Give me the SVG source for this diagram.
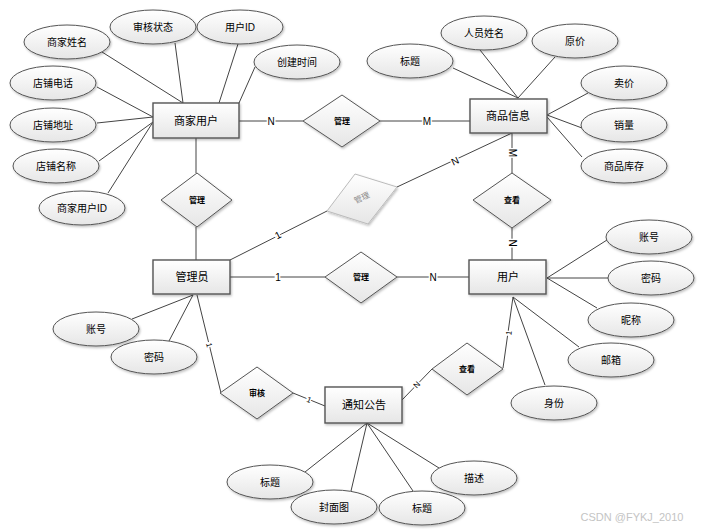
<svg xmlns="http://www.w3.org/2000/svg" width="703" height="530" viewBox="0 0 703 530">
<defs>
<linearGradient id="g" x1="0" y1="0" x2="0" y2="1">
<stop offset="0" stop-color="#ffffff"/>
<stop offset="1" stop-color="#e6e6e6"/>
</linearGradient>
<filter id="sh" x="-10%" y="-10%" width="130%" height="140%">
<feDropShadow dx="1" dy="1.5" stdDeviation="0.8" flood-color="#000" flood-opacity="0.25"/>
</filter>
</defs>
<style>
text{font-family:"Liberation Sans","Noto Sans CJK SC",sans-serif;text-anchor:middle;dominant-baseline:central;fill:#000}
.ent rect{fill:url(#g);stroke:#555;stroke-width:1.4;filter:url(#sh)}
.ent text{font-size:11px}
.att ellipse{fill:url(#g);stroke:#555;stroke-width:1;filter:url(#sh)}
.att text{font-size:10px}
.rel polygon{fill:url(#g);stroke:#555;stroke-width:1;filter:url(#sh)}
.rel text{font-size:8px;font-weight:bold}
.conn line{stroke:#444;stroke-width:1}
.lbl{font-size:10px;stroke:#fff;stroke-width:3;paint-order:stroke}
</style>
<rect width="703" height="530" fill="#fff"/>

<g id="connectors" class="conn">
<!-- 商家用户 attributes -->
<line x1="102" y1="52" x2="183" y2="103"/>
<line x1="175" y1="43" x2="183" y2="103"/>
<line x1="238" y1="44" x2="219" y2="103"/>
<line x1="255" y1="67" x2="239" y2="103"/>
<line x1="97" y1="87" x2="153" y2="117"/>
<line x1="97" y1="123" x2="153" y2="117"/>
<line x1="99" y1="161" x2="153" y2="122"/>
<line x1="108" y1="193" x2="153" y2="122"/>
<!-- 商品信息 attributes -->
<line x1="453" y1="68" x2="518" y2="98" stroke-width="1.3"/>
<line x1="480" y1="50" x2="518" y2="98"/>
<line x1="555" y1="57" x2="518" y2="98"/>
<line x1="588" y1="93" x2="547" y2="115"/>
<line x1="582" y1="128" x2="547" y2="115" stroke-width="1.5"/>
<line x1="582" y1="157" x2="547" y2="117"/>
<!-- 管理员 attributes -->
<line x1="132" y1="319" x2="193" y2="295"/>
<line x1="169" y1="341" x2="193" y2="295"/>
<!-- 用户 attributes -->
<line x1="607" y1="240" x2="547" y2="278"/>
<line x1="608" y1="278" x2="547" y2="278"/>
<line x1="597" y1="308" x2="547" y2="278"/>
<line x1="579" y1="347" x2="513" y2="297"/>
<line x1="545" y1="385" x2="513" y2="297"/>
<!-- 通知公告 attributes -->
<line x1="305" y1="472" x2="367" y2="423"/>
<line x1="351" y1="491" x2="367" y2="423"/>
<line x1="413" y1="491" x2="367" y2="423"/>
<line x1="439" y1="468" x2="367" y2="423"/>
<!-- relationships -->
<line x1="239" y1="121" x2="303" y2="121"/>
<line x1="380" y1="121" x2="470" y2="121"/>
<line x1="196" y1="138" x2="196" y2="173"/>
<line x1="196" y1="227" x2="196" y2="260"/>
<line x1="512" y1="133" x2="512" y2="173"/>
<line x1="512" y1="228" x2="512" y2="260"/>
<line x1="512" y1="133" x2="397" y2="187"/>
<line x1="327" y1="211" x2="230" y2="260"/>
<line x1="230" y1="277" x2="325" y2="277"/>
<line x1="397" y1="277" x2="469" y2="277"/>
<line x1="197" y1="295" x2="221" y2="393"/>
<line x1="293" y1="393" x2="325" y2="406"/>
<line x1="513" y1="297" x2="503" y2="368"/>
<line x1="432" y1="369" x2="402" y2="400"/>
<!-- cardinality labels -->
<text class="lbl" x="271" y="121">N</text>
<text class="lbl" x="427" y="121">M</text>
<text class="lbl" transform="translate(512,153) rotate(90)">M</text>
<text class="lbl" transform="translate(512,243) rotate(90)">N</text>
<text class="lbl" transform="translate(455,161) rotate(-25)">N</text>
<text class="lbl" transform="translate(278,235) rotate(-27)">1</text>
<text class="lbl" x="278" y="277">1</text>
<text class="lbl" x="433" y="277">N</text>
<text class="lbl" style="font-size:8px" transform="translate(209,345) rotate(76)">1</text>
<text class="lbl" style="font-size:8px" transform="translate(309,400) rotate(22)">1</text>
<text class="lbl" style="font-size:8px" transform="translate(509,333) rotate(-82)">1</text>
<text class="lbl" style="font-size:8px" transform="translate(417,385) rotate(-46)">N</text>
</g>

<!-- entities -->
<g id="e-shangjia" class="ent"><rect x="153" y="103" width="86" height="35"/><text x="196" y="121">商家用户</text></g>
<g id="e-shangpin" class="ent"><rect x="470" y="99" width="77" height="34"/><text x="508" y="116">商品信息</text></g>
<g id="e-guanliyuan" class="ent"><rect x="153" y="260" width="77" height="34"/><text x="192" y="277">管理员</text></g>
<g id="e-yonghu" class="ent"><rect x="469" y="260" width="77" height="34"/><text x="508" y="277">用户</text></g>
<g id="e-tongzhi" class="ent"><rect x="325" y="387" width="77" height="36"/><text x="364" y="405">通知公告</text></g>

<!-- relationships -->
<g id="r-guanli1" class="rel"><polygon points="303,121 342,95 380,121 342,147"/><text x="342" y="121">管理</text></g>
<g id="r-guanli2" class="rel"><polygon points="161,200 197,173 232,200 197,227"/><text x="197" y="200">管理</text></g>
<g id="r-guanli3" class="rel"><polygon points="355,174 397,187 368,224 327,211" style="stroke:#bbb"/><text transform="translate(362,198) rotate(-25)" style="fill:#888;font-weight:normal">管理</text></g>
<g id="r-guanli4" class="rel"><polygon points="325,277 361,252 397,277 361,303"/><text x="361" y="277">管理</text></g>
<g id="r-chakan1" class="rel"><polygon points="473,200 512,173 551,200 512,228"/><text x="512" y="200">查看</text></g>
<g id="r-shenhe" class="rel"><polygon points="220,393 257,367 293,393 257,419"/><text x="257" y="393">审核</text></g>
<g id="r-chakan2" class="rel"><polygon points="432,369 467,343 503,369 467,395"/><text x="467" y="369">查看</text></g>

<!-- attributes of 商家用户 -->
<g id="a-sjxm" class="att"><ellipse cx="67" cy="42" rx="43" ry="17"/><text x="67" y="42">商家姓名</text></g>
<g id="a-shzt" class="att"><ellipse cx="153" cy="27" rx="43" ry="17"/><text x="153" y="27">审核状态</text></g>
<g id="a-yhid" class="att"><ellipse cx="240" cy="27" rx="43" ry="17"/><text x="240" y="27">用户ID</text></g>
<g id="a-cjsj" class="att"><ellipse cx="297" cy="62" rx="43" ry="17"/><text x="297" y="62">创建时间</text></g>
<g id="a-dpdh" class="att"><ellipse cx="53" cy="83" rx="43" ry="17"/><text x="53" y="83">店铺电话</text></g>
<g id="a-dpdz" class="att"><ellipse cx="53" cy="125" rx="43" ry="17"/><text x="53" y="125">店铺地址</text></g>
<g id="a-dpmc" class="att"><ellipse cx="56" cy="166" rx="43" ry="17"/><text x="56" y="166">店铺名称</text></g>
<g id="a-sjyhid" class="att"><ellipse cx="82" cy="208" rx="43" ry="17"/><text x="82" y="208">商家用户ID</text></g>

<!-- attributes of 商品信息 -->
<g id="a-bt1" class="att"><ellipse cx="410" cy="61" rx="43" ry="17"/><text x="410" y="61">标题</text></g>
<g id="a-ryxm" class="att"><ellipse cx="484" cy="33" rx="43" ry="17"/><text x="484" y="33">人员姓名</text></g>
<g id="a-yj" class="att"><ellipse cx="575" cy="41" rx="43" ry="17"/><text x="575" y="41">原价</text></g>
<g id="a-mj" class="att"><ellipse cx="624" cy="83" rx="43" ry="17"/><text x="624" y="83">卖价</text></g>
<g id="a-xl" class="att"><ellipse cx="624" cy="125" rx="43" ry="17"/><text x="624" y="125">销量</text></g>
<g id="a-spkc" class="att"><ellipse cx="624" cy="166" rx="43" ry="17"/><text x="624" y="166">商品库存</text></g>

<!-- attributes of 管理员 -->
<g id="a-zh1" class="att"><ellipse cx="96" cy="329" rx="43" ry="17"/><text x="96" y="329">账号</text></g>
<g id="a-mm1" class="att"><ellipse cx="154" cy="357" rx="43" ry="17"/><text x="154" y="357">密码</text></g>

<!-- attributes of 用户 -->
<g id="a-zh2" class="att"><ellipse cx="649" cy="237" rx="43" ry="17"/><text x="649" y="237">账号</text></g>
<g id="a-mm2" class="att"><ellipse cx="651" cy="278" rx="43" ry="17"/><text x="651" y="278">密码</text></g>
<g id="a-nc" class="att"><ellipse cx="631" cy="320" rx="43" ry="17"/><text x="631" y="320">昵称</text></g>
<g id="a-yx" class="att"><ellipse cx="611" cy="360" rx="43" ry="17"/><text x="611" y="360">邮箱</text></g>
<g id="a-sf" class="att"><ellipse cx="554" cy="403" rx="43" ry="17"/><text x="554" y="403">身份</text></g>

<!-- attributes of 通知公告 -->
<g id="a-bt2" class="att"><ellipse cx="270" cy="482" rx="43" ry="17"/><text x="270" y="482">标题</text></g>
<g id="a-fmt" class="att"><ellipse cx="334" cy="507" rx="43" ry="17"/><text x="334" y="507">封面图</text></g>
<g id="a-bt3" class="att"><ellipse cx="422" cy="508" rx="43" ry="17"/><text x="422" y="508">标题</text></g>
<g id="a-ms" class="att"><ellipse cx="474" cy="478" rx="43" ry="17"/><text x="474" y="478">描述</text></g>

<text x="632" y="517" style="font-size:11px;fill:#c4c4c4">CSDN @FYKJ_2010</text>
</svg>
